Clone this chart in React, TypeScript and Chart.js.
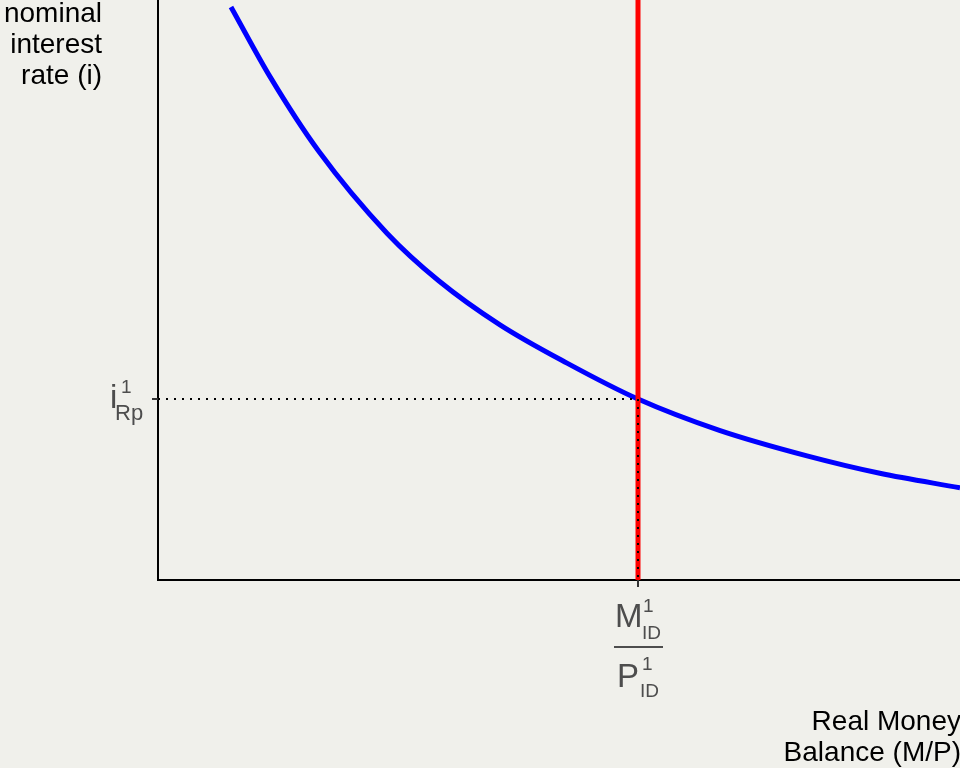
import React, { useEffect, useRef } from "react";
import { Chart, registerables } from "chart.js";

Chart.register(...registerables);

// Money demand curve (x: real money balance, y: nominal interest rate), axis units 0..100
const demandX = [9.1, 14, 20, 28.55, 35, 42.64, 51, 59.85, 70, 80.92, 90, 100];
const demandY = [98.8, 86.7, 74.0, 59.8, 51.6, 44.0, 37.4, 31.2, 25.8, 21.4, 18.4, 15.9];

// Money supply (vertical) and equilibrium
const supplyX = 59.85;
const equilibriumY = 31.2;
const axisMin = 0;
const axisMax = 100;

const yTitleLines = ["nominal", "interest", "rate (i)"];
const xTitleLines = ["Real Money", "Balance (M/P)"];

const BG = "#F0F0EB";
const TICK_COLOR = "#4D4D4D";
const FONT = "'Liberation Sans', Arial, sans-serif";

export default function App() {
  const ref = useRef<HTMLCanvasElement | null>(null);

  useEffect(() => {
    const canvas = ref.current;
    if (!canvas) return;

    const bgPlugin = {
      id: "bg",
      beforeDraw(chart: any) {
        const ctx = chart.ctx;
        ctx.save();
        ctx.fillStyle = BG;
        ctx.fillRect(0, 0, chart.width, chart.height);
        ctx.restore();
      },
    };

    const labelsPlugin = {
      id: "labels",
      afterDraw(chart: any) {
        const ctx = chart.ctx;
        const xs = chart.scales.x;
        const ys = chart.scales.y;
        const px = xs.getPixelForValue(supplyX);
        const py = ys.getPixelForValue(equilibriumY);
        const area = chart.chartArea;
        ctx.save();
        // tick marks
        ctx.strokeStyle = "#333333";
        ctx.lineWidth = 2;
        ctx.beginPath();
        ctx.moveTo(area.left - 6, py);
        ctx.lineTo(area.left, py);
        ctx.moveTo(px, area.bottom);
        ctx.lineTo(px, area.bottom + 7);
        ctx.stroke();

        // y-axis title
        ctx.fillStyle = "#000000";
        ctx.font = `28px ${FONT}`;
        ctx.textAlign = "right";
        ctx.textBaseline = "alphabetic";
        yTitleLines.forEach((t, i) => ctx.fillText(t, 102, 22 + i * 31));
        // x-axis title
        xTitleLines.forEach((t, i) => ctx.fillText(t, 961, 730 + i * 31));

        // y tick label: i^1_Rp
        ctx.fillStyle = TICK_COLOR;
        ctx.textAlign = "left";
        ctx.font = `33px ${FONT}`;
        ctx.fillText("i", area.left - 48, py + 9);
        ctx.font = `19px ${FONT}`;
        ctx.fillText("1", area.left - 37, py - 6);
        ctx.font = `22px ${FONT}`;
        ctx.fillText("Rp", area.left - 43, py + 21);

        // x tick label: M^1_ID / P^1_ID
        ctx.font = `33px ${FONT}`;
        ctx.fillText("M", px - 23, 627);
        ctx.fillText("P", px - 21, 687);
        ctx.font = `19px ${FONT}`;
        ctx.fillText("1", px + 5, 612);
        ctx.fillText("ID", px + 4, 639);
        ctx.fillText("1", px + 4, 670);
        ctx.fillText("ID", px + 2, 697);
        ctx.strokeStyle = TICK_COLOR;
        ctx.lineWidth = 2;
        ctx.beginPath();
        ctx.moveTo(px - 24, 647);
        ctx.lineTo(px + 25, 647);
        ctx.stroke();
        ctx.restore();
      },
    };

    const chart = new Chart(canvas, {
      type: "line",
      data: {
        datasets: [
          {
            label: "equilibrium guides",
            data: [
              { x: axisMin, y: equilibriumY },
              { x: supplyX, y: equilibriumY },
              { x: supplyX, y: axisMin },
            ],
            borderColor: "#000000",
            borderWidth: 2,
            borderDash: [2, 6],
            pointRadius: 0,
            fill: false,
            order: 0,
          },
          {
            label: "money supply",
            data: [
              { x: supplyX, y: axisMin },
              { x: supplyX, y: axisMax },
            ],
            borderColor: "#FF0000",
            borderWidth: 5,
            pointRadius: 0,
            fill: false,
            order: 1,
          },
          {
            label: "money demand",
            data: demandX.map((x, i) => ({ x, y: demandY[i] })),
            borderColor: "#0000FF",
            borderWidth: 5,
            pointRadius: 0,
            cubicInterpolationMode: "monotone",
            fill: false,
            order: 2,
          },
        ],
      },
      options: {
        animation: false,
        responsive: false,
        devicePixelRatio: 1,
        layout: { padding: 0 },
        plugins: {
          legend: { display: false },
          tooltip: { enabled: false },
        },
        scales: {
          x: {
            type: "linear",
            min: axisMin,
            max: axisMax,
            grid: { display: false, drawTicks: false },
            border: { display: true, color: "#000000", width: 2 },
            ticks: { display: false },
            afterFit: (s: any) => {
              s.height = 188;
            },
          },
          y: {
            type: "linear",
            min: axisMin,
            max: axisMax,
            grid: { display: false, drawTicks: false },
            border: { display: true, color: "#000000", width: 2 },
            ticks: { display: false },
            afterFit: (s: any) => {
              s.width = 158;
            },
          },
        },
      } as any,
      plugins: [bgPlugin, labelsPlugin],
    });

    return () => chart.destroy();
  }, []);

  return (
    <div style={{ position: "fixed", top: 0, left: 0, width: 960, height: 768, background: BG }}>
      <canvas ref={ref} width={960} height={768} style={{ display: "block" }} />
    </div>
  );
}
